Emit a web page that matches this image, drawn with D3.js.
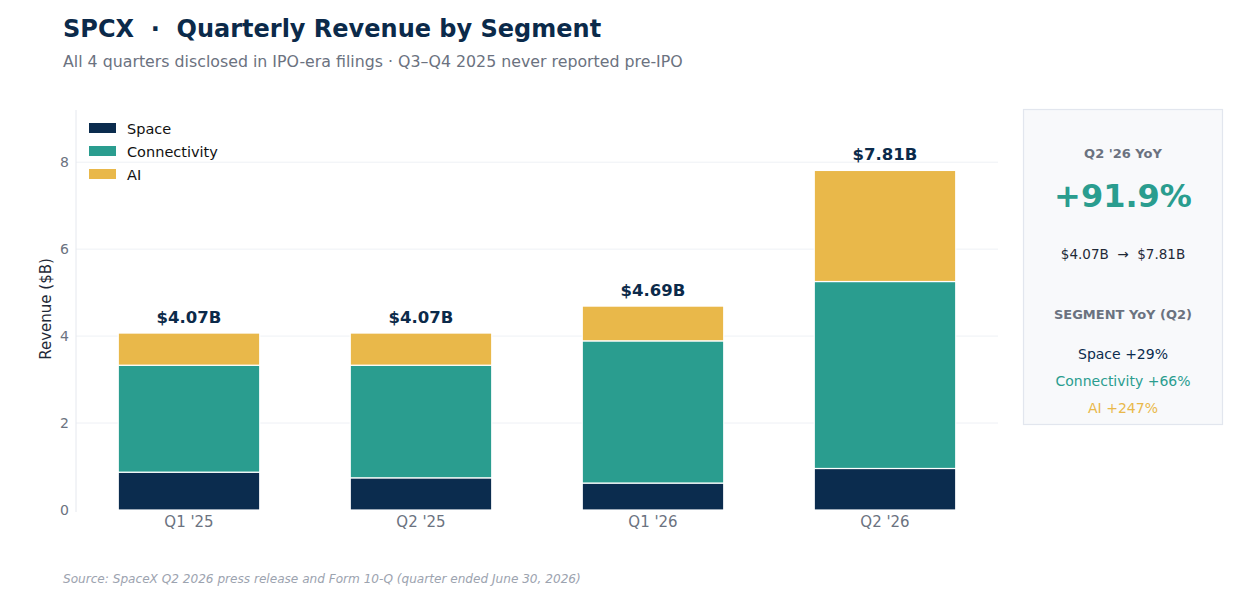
<!DOCTYPE html>
<html>
<head>
<meta charset="utf-8">
<script src="https://cdn.jsdelivr.net/npm/d3@7"></script>
<style>
  html, body { margin: 0; padding: 0; background: #fff; }
  svg { display: block; font-family: "DejaVu Sans", sans-serif; }
</style>
</head>
<body>
<svg id="chart" width="1248" height="607"></svg>
<script>
// Quarterly revenue by segment, $B.
const quarters = ["Q1 '25", "Q2 '25", "Q1 '26", "Q2 '26"];
const segments = ["Space", "Connectivity", "AI"];
const spaceRev = [0.87, 0.74, 0.62, 0.955];
const connRev = [2.46, 2.59, 3.27, 4.30];
const aiRev = [0.74, 0.74, 0.80, 2.555];
const totalLabels = ["$4.07B", "$4.07B", "$4.69B", "$7.81B"];
const yTicks = [0, 2, 4, 6, 8];
const segmentYoY = ["Space +29%", "Connectivity +66%", "AI +247%"];

const COLORS = { Space: "#0b2c4e", Connectivity: "#2a9d8f", AI: "#e9b84a" };
const NAVY = "#0b2a4a";

const svg = d3.select("#chart");

const rows = quarters.map((q, i) => ({
  quarter: q, Space: spaceRev[i], Connectivity: connRev[i], AI: aiRev[i], label: totalLabels[i],
}));

const x = d3.scaleBand().domain(quarters).range([73, 1001]).paddingInner(0.39).paddingOuter(0.195);
const y = d3.scaleLinear().domain([0, 9.2]).range([510, 110]);

// Grid
svg.append("g").selectAll("line").data(yTicks.filter(t => t > 0)).join("line")
  .attr("x1", 76).attr("x2", 998)
  .attr("y1", d => y(d)).attr("y2", d => y(d))
  .attr("stroke", "#eef1f5").attr("stroke-width", 1);

// Left spine
svg.append("line").attr("x1", 76).attr("x2", 76).attr("y1", 110).attr("y2", 512)
  .attr("stroke", "#e5e8ee");

// Y axis
const yAxis = svg.append("g").attr("transform", "translate(76,0)")
  .call(d3.axisLeft(y).tickValues(yTicks).tickSize(0).tickPadding(7));
yAxis.select(".domain").remove();
yAxis.selectAll("text").attr("fill", "#6b7280").attr("font-size", 14)
  .attr("font-family", "DejaVu Sans, sans-serif");

// X axis
const xAxis = svg.append("g").attr("transform", "translate(0,510)")
  .call(d3.axisBottom(x).tickSize(0).tickPadding(6));
xAxis.select(".domain").remove();
xAxis.selectAll("text").attr("fill", "#6b7280").attr("font-size", 15)
  .attr("font-family", "DejaVu Sans, sans-serif");

// Y label
svg.append("text").attr("transform", "translate(51,309) rotate(-90)")
  .attr("text-anchor", "middle").attr("font-size", 15).attr("fill", "#1f2937")
  .text("Revenue ($B)");

// Stacked bars
const stack = d3.stack().keys(segments)(rows);
svg.append("g").selectAll("g").data(stack).join("g")
  .attr("fill", d => COLORS[d.key])
  .selectAll("rect").data(d => d).join("rect")
  .attr("x", d => x(d.data.quarter))
  .attr("width", x.bandwidth())
  .attr("y", d => y(d[1]))
  .attr("height", d => y(d[0]) - y(d[1]))
  .attr("stroke", "#ffffff").attr("stroke-width", 1.2);

// Totals
svg.append("g").selectAll("text").data(rows).join("text")
  .attr("x", d => x(d.quarter) + x.bandwidth() / 2)
  .attr("y", d => y(d.Space + d.Connectivity + d.AI) - 10)
  .attr("text-anchor", "middle").attr("font-size", 16.5).attr("font-weight", "bold")
  .attr("fill", NAVY).text(d => d.label);

// Legend
const legend = svg.append("g").attr("transform", "translate(89,123)");
segments.forEach((s, i) => {
  const g = legend.append("g").attr("transform", `translate(0,${i * 23})`);
  g.append("rect").attr("width", 27).attr("height", 10).attr("fill", COLORS[s]);
  g.append("text").attr("x", 38).attr("y", 10.5).attr("font-size", 14.5).attr("fill", "#111").text(s);
});

// Title + subtitle + source
svg.append("text").attr("x", 63).attr("y", 37).attr("font-size", 24).attr("font-weight", "bold")
  .attr("fill", NAVY).attr("xml:space", "preserve").text("SPCX  ·  Quarterly Revenue by Segment");
svg.append("text").attr("x", 63).attr("y", 67).attr("font-size", 15.8).attr("fill", "#6b7280")
  .text("All 4 quarters disclosed in IPO-era filings · Q3–Q4 2025 never reported pre-IPO");
svg.append("text").attr("x", 63).attr("y", 583).attr("font-size", 12.1).attr("font-style", "italic")
  .attr("fill", "#9ca3af")
  .text("Source: SpaceX Q2 2026 press release and Form 10-Q (quarter ended June 30, 2026)");

// Side panel
const panel = svg.append("g");
panel.append("rect").attr("x", 1023.5).attr("y", 109.5).attr("width", 199).attr("height", 315)
  .attr("fill", "#f8f9fb").attr("stroke", "#e2e6ee").attr("stroke-width", 1.2);
const cx = 1123;
panel.append("text").attr("x", cx).attr("y", 158).attr("text-anchor", "middle")
  .attr("font-size", 13).attr("font-weight", "bold").attr("fill", "#6b7280").text("Q2 '26 YoY");
panel.append("text").attr("x", cx).attr("y", 207).attr("text-anchor", "middle")
  .attr("font-size", 32).attr("font-weight", "bold").attr("fill", COLORS.Connectivity).text("+91.9%");
panel.append("text").attr("x", cx).attr("y", 259).attr("text-anchor", "middle")
  .attr("font-size", 13.5).attr("fill", "#1f2937").attr("xml:space", "preserve")
  .text("$4.07B  →  $7.81B");
panel.append("text").attr("x", cx).attr("y", 319).attr("text-anchor", "middle")
  .attr("font-size", 13).attr("font-weight", "bold").attr("fill", "#6b7280").text("SEGMENT YoY (Q2)");
segmentYoY.forEach((t, i) => {
  panel.append("text").attr("x", cx).attr("y", 359 + i * 27).attr("text-anchor", "middle")
    .attr("font-size", 14).attr("fill", COLORS[segments[i]]).text(t);
});
</script>
</body>
</html>
